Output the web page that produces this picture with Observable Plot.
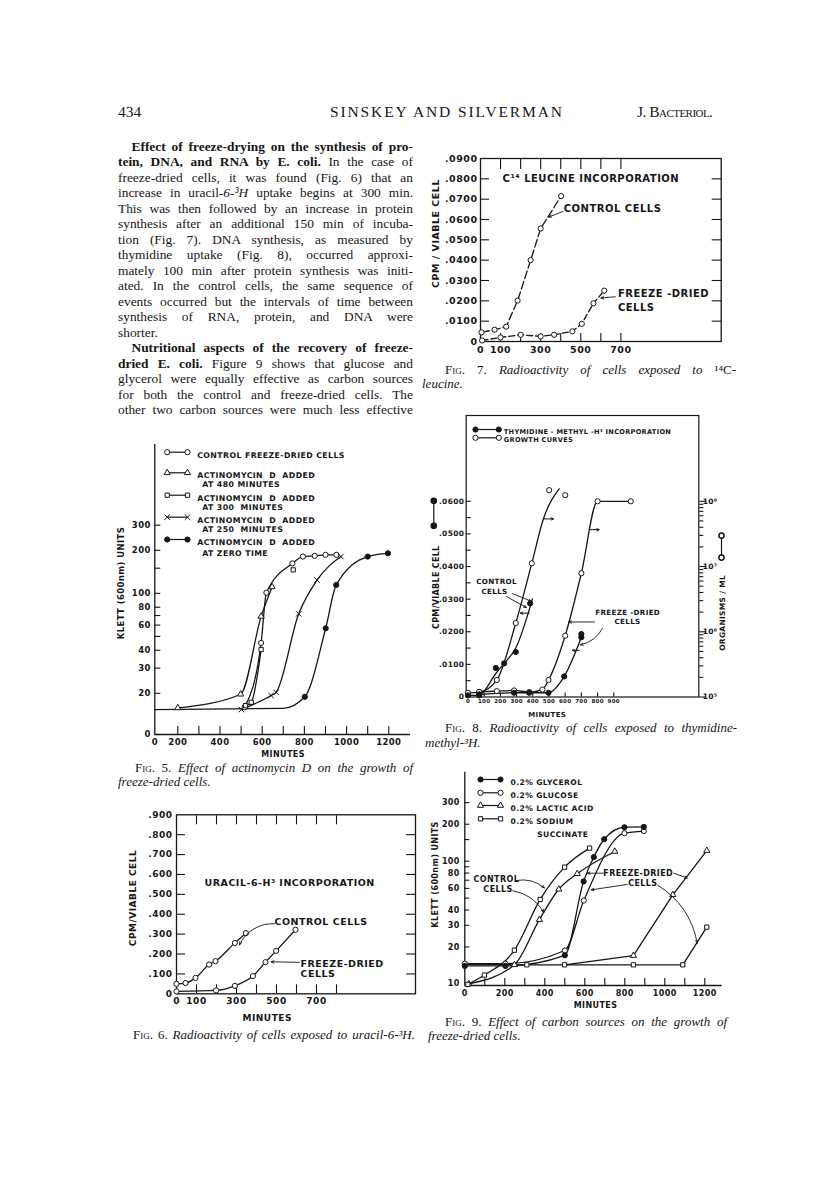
<!DOCTYPE html>
<html><head><meta charset="utf-8">
<script src="https://cdn.jsdelivr.net/npm/d3@7"></script>
<script src="https://cdn.jsdelivr.net/npm/@observablehq/plot@0.6"></script>
<style>
html,body{margin:0;padding:0;background:#fff;}
#page{position:relative;width:816px;height:1188px;overflow:hidden;background:#fff;color:#161616;}
.ln{position:absolute;white-space:pre;font-family:'Liberation Serif','Times New Roman',serif;font-size:13.4px;line-height:13.4px;color:#161616;}
.cap{font-size:13px;line-height:13px;}
.hd{font-size:15.5px;line-height:15.5px;}
.sc{font-variant:small-caps;}
</style></head><body><div id="page"></div>
<script>
// ================= DATA =================
// Page text
const headerLeft = "434";
const headerCenter = "SINSKEY AND SILVERMAN";
const headerRight = 'J. <span class="sc">Bacteriol.</span>';
const bodyLines = [
  "<b>Effect of freeze-drying on the synthesis of pro-</b>",
  "<b>tein, DNA, and RNA by E. coli.</b> In the case of",
  "freeze-dried cells, it was found (Fig. 6) that an",
  "increase in uracil-<i>6-³H</i> uptake begins at 300 min.",
  "This was then followed by an increase in protein",
  "synthesis after an additional 150 min of incuba-",
  "tion (Fig. 7). DNA synthesis, as measured by",
  "thymidine uptake (Fig. 8), occurred approxi-",
  "mately 100 min after protein synthesis was initi-",
  "ated. In the control cells, the same sequence of",
  "events occurred but the intervals of time between",
  "synthesis of RNA, protein, and DNA were",
  "shorter.",
  "<b>Nutritional aspects of the recovery of freeze-</b>",
  "<b>dried E. coli.</b> Figure 9 shows that glucose and",
  "glycerol were equally effective as carbon sources",
  "for both the control and freeze-dried cells. The",
  "other two carbon sources were much less effective"
];
const cap7 = ['<span class="sc">Fig.</span> 7. <i>Radioactivity of cells exposed to</i> ¹⁴C-', '<i>leucine.</i>'];
const cap5 = ['<span class="sc">Fig.</span> 5. <i>Effect of actinomycin D on the growth of</i>', '<i>freeze-dried cells.</i>'];
const cap8 = ['<span class="sc">Fig.</span> 8. <i>Radioactivity of cells exposed to thymidine-</i>', '<i>methyl-³H.</i>'];
const cap6 = ['<span class="sc">Fig.</span> 6. <i>Radioactivity of cells exposed to uracil-6-³H.</i>'];
const cap9 = ['<span class="sc">Fig.</span> 9. <i>Effect of carbon sources on the growth of</i>', '<i>freeze-dried cells.</i>'];

// Fig 7: [minutes, cpm per viable cell]
const fig7Control = [[5,.0045],[70,.0058],[128,.0073],[185,.0201],[250,.0400],[300,.0556],[402,.0715]];
const fig7Freeze = [[8,.0005],[100,.0020],[200,.0033],[300,.0025],[367,.0033],[458,.0050],[505,.0087],[563,.0188],[617,.0250]];
const fig7YTicks = [0,.01,.02,.03,.04,.05,.06,.07,.08,.09];
const fig7XLabels = [0,100,300,500,700];
const fig7XTicks = [100,200,300,400,500,600,700];
const fig7Notes = [
  {x:110, y:.0802, text:"C¹⁴ LEUCINE INCORPORATION"},
  {x:415, y:.0653, text:"CONTROL CELLS"},
  {x:685, y:.0233, text:"FREEZE -DRIED"},
  {x:685, y:.0168, text:"CELLS"}
];
const fig7Arrows = [
  {x1:412, y1:.0640, x2:340, y2:.0612},
  {x1:672, y1:.0220, x2:600, y2:.0214}
];

// Fig 5: [minutes, Klett units]
const fig5XZero = 91, fig5YZero = 10.3;
const fig5Control = [[517,16],[595,45],[620,101],[743,162],[793,181],[849,183],[900,186],[952,186]];
const fig5At480 = [[200,15.8],[498,19.7],[595,69],[647,111]];
const fig5At300 = [[521,16.4],[548,17.3],[595,40.5]];
const fig5At300Extra = [[747,146]];
const fig5At250 = [[502,15.4],[642,19.3],[666,20.3],[773,71.9],[860,124],[973,181]];
const fig5Zero = [[802,18.9],[901,57],[951,114.6],[1100,181],[1196,190.7]];
const fig5ZeroBaseline = [[91,15.4],[700,15.7]];
const fig5YLabels = [20,30,40,60,80,100,200,300];
const fig5YTicks = [20,30,40,50,60,70,80,100,150,200,300];
const fig5XLabels = [200,400,600,800,1000,1200];
const fig5XTicks = [200,300,400,500,600,700,800,900,1000,1100,1200];
const fig5Legend = [
  {k:"open", label:"CONTROL FREEZE-DRIED CELLS", sub:null},
  {k:"tri", label:"ACTINOMYCIN  D  ADDED", sub:"AT 480 MINUTES"},
  {k:"sq", label:"ACTINOMYCIN  D  ADDED", sub:"AT 300  MINUTES"},
  {k:"x", label:"ACTINOMYCIN  D  ADDED", sub:"AT 250  MINUTES"},
  {k:"filled", label:"ACTINOMYCIN  D  ADDED", sub:"AT ZERO TIME"}
];

// Fig 8: growth [minutes, organisms/ml], thymidine [minutes, cpm per viable cell]
const fig8ControlGrowth = [[0,1.16e5],[69,1.19e5],[178,1.82e5],[295,1.36e6],[394,1.12e7],[501,1.48e8],[600,1.24e8]];
const fig8ControlGrowthCurve = [[0,1.16e5],[69,1.19e5],[178,1.82e5],[295,1.36e6],[394,1.12e7],[466,5.4e7],[563,1.55e8]];
const fig8FreezeGrowth = [[69,1.2e5],[178,1.23e5],[285,1.26e5],[378,1.19e5],[460,1.3e5],[497,1.82e5],[600,8.7e5],[700,7.9e6],[800,1.0e8],[1005,1.0e8]];
const fig8ControlThym = [[0,.0005],[69,.0005],[172,.0089],[223,.0103],[295,.0138],[384,.0287]];
const fig8ControlThymCurve = [[0,.0005],[69,.0006],[172,.0072],[223,.0103],[295,.0150],[398,.0301]];
const fig8FreezeThym = [[69,.0008],[285,.0013],[378,.0013],[497,.0013],[594,.0063],[700,.0183],[700,.0193]];
const fig8YLabels = [0,.01,.02,.03,.04,.05,.06];
const fig8YTicks = d3.range(1,13).map(i => i*.005);
const fig8OrgMajor = [1e5,1e6,1e7,1e8];
const fig8XLabels = [0,100,200,300,400,500,600,700,800,900];
const fig8Notes = [
  {x:176, y:.0355, text:"CONTROL"}, {x:164, y:.0324, text:"CELLS"},
  {x:986, y:.0258, text:"FREEZE -DRIED"}, {x:985, y:.0232, text:"CELLS"}
];
const fig8Arrows = [
  {x1:238, y1:.0308, x2:361, y2:.0274},
  {x1:275, y1:.0317, x2:392, y2:.0293},
  {x1:781, y1:.0230, x2:622, y2:.0230}
];
const fig8CurvedArrows = [{x1:830, y1:.0210, x2:694, y2:.0160}];
const fig8Pointers = [
  {x1:466, y1:.0546, x2:528, y2:.0546},
  {x1:748, y1:.0513, x2:810, y2:.0513},
  {x1:378, y1:.0257, x2:324, y2:.0257},
  {x1:686, y1:.0143, x2:645, y2:.0143}
];

// Fig 6: [minutes, cpm per viable cell]
const fig6Control = [[0,.050],[45,.054],[95,.080],[163,.147],[195,.164],[292,.256],[347,.305]];
const fig6Freeze = [[0,.012],[198,.017],[292,.040],[382,.089],[445,.159],[498,.216],[595,.322]];
const fig6YTicks = [0,.1,.2,.3,.4,.5,.6,.7,.8,.9];
const fig6XLabels = [0,100,300,500,700];
const fig6XTicks = [100,200,300,400,500,600,700,800];
const fig6Notes = [
  {x:140, y:.558, text:"URACIL-6-H³ INCORPORATION"},
  {x:490, y:.359, text:"CONTROL CELLS"},
  {x:620, y:.151, text:"FREEZE-DRIED"},
  {x:620, y:.098, text:"CELLS"}
];
const fig6CurvedArrows = [{x1:492, y1:.352, x2:315, y2:.246}];
const fig6Arrows = [{x1:615, y1:.158, x2:473, y2:.161}];

// Fig 9: [minutes, Klett units]
const fig9YZero = 9.7;
const fig9GlycerolFD = [[0,14.0],[203,14.0],[500,17.1],[594,68.4],[645,108],[697,151],[798,189],[895,190]];
const fig9GlucoseFD = [[0,14.6],[203,14.6],[500,18.7],[595,47.8],[798,169],[895,176]];
const fig9LacticControl = [[20,10],[248,14.3],[373,33.4],[470,59],[562,79],[750,120]];
const fig9LacticFD = [[843,17.0],[1040,53.2],[1210,122]];
const fig9LacticFDStart = [[499,14.3]];
const fig9SuccControl = [[15,9.9],[98,11.8],[248,18.8],[377,48.8],[499,89.4],[624,127.7]];
const fig9SuccFD = [[0,14.4],[310,14.3],[499,14.3],[843,14.3],[1090,14.3],[1210,29]];
const fig9YLabels = [10,20,30,40,60,80,100,200,300];
const fig9YTicks = [20,30,40,50,60,70,80,90,100,150,200,300];
const fig9XLabels = [0,200,400,600,800,1000,1200];
const fig9XTicks = [100,200,300,400,500,600,700,800,900,1000,1100,1200];
const fig9Legend = [
  {k:"filled", label:"0.2% GLYCEROL"},
  {k:"open", label:"0.2% GLUCOSE"},
  {k:"tri", label:"0.2% LACTIC ACID"},
  {k:"sq", label:"0.2% SODIUM"}
];
const fig9Notes = [
  {x:158, y:70.5, text:"CONTROL"}, {x:166, y:58.4, text:"CELLS"},
  {x:867, y:79.8, text:"FREEZE-DRIED"}, {x:890, y:65.4, text:"CELLS"}
];
const fig9CurvedArrows = [
  {x1:257, y1:69.6, x2:398, y2:60.6},
  {x1:240, y1:57.4, x2:395, y2:38.4},
  {x1:965, y1:63.6, x2:1162, y2:21.4}
];
const fig9Arrows = [
  {x1:693, y1:79.8, x2:612, y2:79.8},
  {x1:812, y1:64.6, x2:632, y2:58.4},
  {x1:1045, y1:79.8, x2:1112, y2:72.9}
];

// ================= PAGE TEXT =================
const page = document.getElementById("page");
function textLine(html, x, baseline, width, cls, fit) {
  const el = document.createElement("div");
  el.className = "ln" + (cls ? " " + cls : "");
  el.innerHTML = html;
  page.appendChild(el);
  const fs = parseFloat(getComputedStyle(el).fontSize);
  el.style.left = x + "px";
  el.style.top = (baseline - 0.8375 * fs) + "px";
  if (width) {
    const w = el.getBoundingClientRect().width;
    if (fit === "letter") {
      const n = el.textContent.length - 1;
      el.style.letterSpacing = ((width - w) / n) + "px";
    } else {
      const n = (el.textContent.match(/ /g) || []).length;
      if (n) el.style.wordSpacing = ((width - w) / n) + "px";
    }
  }
  return el;
}
textLine(headerLeft, 118, 117, null, "hd");
textLine(headerCenter, 330, 117, 232, "hd", "letter");
textLine(headerRight, 637, 117, 76, "hd", "letter");
bodyLines.forEach((l, i) => {
  const indent = (i === 0 || i === 13) ? 13.5 : 0;
  textLine(l, 118 + indent, 151 + 15.5 * i, i === 12 ? null : 295 - indent);
});
textLine(cap7[0], 445, 374, 291, "cap"); textLine(cap7[1], 422, 388, null, "cap");
textLine(cap5[0], 135, 772, 278, "cap"); textLine(cap5[1], 118, 786, null, "cap");
textLine(cap8[0], 445, 732, 292, "cap"); textLine(cap8[1], 425, 746.5, null, "cap");
textLine(cap6[0], 133, 1039, 282, "cap");
textLine(cap9[0], 445, 1026, 282, "cap"); textLine(cap9[1], 428, 1040, null, "cap");

// ================= PLOT HELPERS =================
const SANS = "'DejaVu Sans','Liberation Sans',sans-serif";
const INK = "#161616";
const blank = () => "";
const num = d => String(d);
const fmt4 = d => d === 0 ? "0" : d3.format(".4f")(d).slice(1);
const fmt3 = d => d === 0 ? "0" : d3.format(".3f")(d).slice(1);
const MK = {
  open: {symbol: "circle", r: 2.6, fill: "white"},
  filled: {symbol: "circle", r: 2.6, fill: INK},
  tri: {symbol: "triangle", r: 2.3, fill: "white"},
  sq: {symbol: "square", r: 2.4, fill: "white"},
  x: {symbol: "times", r: 2.6, fill: "none"}
};
const dots = (data, k, o = {}) => Plot.dot(data, {x: d => d[0], y: d => d[1], ...MK[k], stroke: INK, strokeWidth: 1, ...o});
const curve = (data, o = {}) => Plot.line(data, {x: d => d[0], y: d => d[1], curve: "monotone-x", stroke: INK, strokeWidth: 1.3, ...o});
const yLabels = (t, fmt, fs, pad = 3, anchor = "left") => Plot.axisY(t, {anchor, tickSize: 0, tickPadding: pad, tickFormat: fmt, label: null, fontSize: fs, fontWeight: "bold", fill: INK});
// log scales: Plot thins log tick labels, so draw them as frame-anchored text
const logYLabels = (t, fmt, fs, pad) => Plot.text(t, {y: d => d, frameAnchor: "left", dx: -pad, textAnchor: "end", text: fmt, fontSize: fs, fontWeight: "bold", fill: INK});
const yTicks = (t, size, anchor = "left") => Plot.axisY(t, {anchor, tickSize: size, tickFormat: blank, label: null, strokeWidth: 1.1, stroke: INK});
const xLabels = (t, fmt, fs, pad = 4, anchor = "bottom") => Plot.axisX(t, {anchor, tickSize: 0, tickPadding: pad, tickFormat: fmt, label: null, fontSize: fs, fontWeight: "bold", fill: INK});
const xTicks = (t, size, anchor = "bottom") => Plot.axisX(t, {anchor, tickSize: size, tickFormat: blank, label: null, strokeWidth: 1.1, stroke: INK});
const notes = (data, fs, anchor = "start") => Plot.text(data, {x: "x", y: "y", text: "text", textAnchor: anchor, fontSize: fs, fontWeight: "bold", fill: INK});
const arrows = (data, bend = 0) => Plot.arrow(data, {x1: "x1", y1: "y1", x2: "x2", y2: "y2", bend, headLength: 5, headAngle: 45, strokeWidth: 0.9, stroke: INK});
const hSeg = len => ({draw(ctx) { ctx.moveTo(-len / 2, 0); ctx.lineTo(len / 2, 0); }});
const vSeg = len => ({draw(ctx) { ctx.moveTo(0, -len / 2); ctx.lineTo(0, len / 2); }});
const atFrame = (anchor, dx, dy, o) => ({frameAnchor: anchor, dx, dy, ...o});
const label = (txt, anchor, dx, dy, fs, o = {}) => Plot.text([txt], atFrame(anchor, dx, dy, {textAnchor: "middle", lineAnchor: "middle", fontSize: fs, fontWeight: "bold", fill: INK, ...o}));
function legendRow(anchor, x1, x2, y, k, text, tx, fs) {
  return [
    Plot.dot([0], atFrame(anchor, (x1 + x2) / 2, y, {symbol: hSeg(x2 - x1), stroke: INK, strokeWidth: 1.2, fill: "none"})),
    Plot.dot([0], atFrame(anchor, x1, y, {...MK[k], stroke: INK, strokeWidth: 1})),
    Plot.dot([0], atFrame(anchor, x2, y, {...MK[k], stroke: INK, strokeWidth: 1})),
    Plot.text([text], atFrame(anchor, tx, y, {textAnchor: "start", fontSize: fs, fontWeight: "bold", fill: INK}))
  ];
}
function figure(L, T, W, H, f, scales, ls, marks) {
  const svg = Plot.plot({
    width: W, height: H,
    marginLeft: f.l - L, marginRight: L + W - f.r, marginTop: f.t - T, marginBottom: T + H - f.b,
    ...scales,
    style: {fontFamily: SANS, fontWeight: "bold", fontSize: "9px", color: INK, background: "transparent", overflow: "visible", letterSpacing: ls + "px"},
    marks
  });
  svg.style.position = "absolute"; svg.style.left = L + "px"; svg.style.top = T + "px";
  svg.style.maxWidth = "none"; svg.style.background = "transparent"; svg.style.overflow = "visible";
  page.appendChild(svg);
}

// ================= FIG 7 =================
figure(420, 140, 310, 230, {l: 480, r: 720.7, t: 158, b: 341},
  {x: {domain: [0, 1200], axis: null}, y: {domain: [0, .09], axis: null}}, 0.5, [
  Plot.frame({stroke: INK, strokeWidth: 1.3}),
  yLabels(fig7YTicks, fmt4, 9.5, 3),
  yTicks(fig7YTicks.slice(1, -1), -9),
  yTicks(fig7YTicks.slice(1, -1), -10, "right"),
  xTicks(fig7XTicks, -10, "top"),
  xTicks(fig7XTicks, -8),
  xLabels(fig7XLabels, num, 9.5, 5),
  label("CPM / VIABLE CELL", "left", -45, -16.5, 9.5, {rotate: -90, style: "letter-spacing:1.8px"}),
  curve(fig7Control, {curve: "linear", strokeDasharray: "8,3"}),
  curve(fig7Freeze, {curve: "linear", strokeDasharray: "6,3"}),
  dots(fig7Control, "open"), dots(fig7Freeze, "open"),
  notes(fig7Notes, 10),
  arrows(fig7Arrows)
]);

// ================= FIG 5 =================
figure(100, 430, 320, 340, {l: 154.3, r: 410, t: 444, b: 734},
  {x: {domain: [fig5XZero, 1303], axis: null}, y: {type: "log", domain: [fig5YZero, 1100], axis: null}}, 0.4, [
  Plot.ruleX([fig5XZero], {stroke: INK, strokeWidth: 1.3}),
  Plot.ruleY([fig5YZero], {stroke: INK, strokeWidth: 1.3}),
  logYLabels([fig5YZero, ...fig5YLabels], d => d === fig5YZero ? "0" : String(d), 8.5, 4),
  yTicks([fig5YZero, ...fig5YTicks], -6),
  xLabels([fig5XZero, ...fig5XLabels], d => d === fig5XZero ? "0" : String(d), 8.5, 4),
  xTicks(fig5XTicks, -8),
  label("MINUTES", "bottom-left", 128.2, 20, 8),
  label("KLETT (600nm) UNITS", "left", -33.6, -6.5, 8.5, {rotate: -90}),
  ...fig5Legend.flatMap((r, i) => {
    const dy = [7.7, 28.3, 50.7, 72.7, 95][i];
    const m = legendRow("top-left", 12.4, 32.7, dy, r.k, r.label, 42.4, 7.8);
    if (r.sub) m.push(Plot.text([r.sub], atFrame("top-left", 47.4, dy + (i === 4 ? 11 : 9), {textAnchor: "start", fontSize: 7.8, fontWeight: "bold", fill: INK})));
    return m;
  }),
  curve(fig5ZeroBaseline.concat(fig5Zero)),
  curve(fig5At480), curve(fig5Control), curve(fig5At300), curve(fig5At250),
  dots(fig5At480, "tri"), dots(fig5Control, "open"), dots(fig5At300, "sq"), dots(fig5At300Extra, "sq"),
  dots(fig5At250, "x"), dots(fig5Zero, "filled")
]);

// ================= FIG 8 =================
const orgToCpm = o => (Math.log10(o) - 5) * 0.02;
const sup = {5: "⁵", 6: "⁶", 7: "⁷", 8: "⁸"};
const fig8OrgMinor = d3.range(5, 8).flatMap(e => d3.range(2, 10).map(k => k * 10 ** e));
const asCpm = arr => arr.map(([m, o]) => [m, orgToCpm(o)]);
const uniqX = arr => arr.filter((d, i, a) => i === 0 || d[0] !== a[i - 1][0]);
figure(420, 400, 320, 330, {l: 465.7, r: 698.3, t: 415, b: 696.5},
  {x: {domain: [-11, 1425], axis: null}, y: {domain: [0, .0863], axis: null}}, 0.3, [
  Plot.frame({stroke: INK, strokeWidth: 1.2}),
  yLabels(fig8YLabels, fmt4, 7.5, 2),
  yTicks(fig8YTicks, -5),
  yTicks(fig8OrgMajor.map(orgToCpm), 6, "right"),
  yTicks(fig8OrgMinor.map(orgToCpm), 4, "right"),
  yLabels(fig8OrgMajor.map(orgToCpm), d => "10" + sup[Math.round(5 + d / 0.02)], 7.5, 4, "right"),
  xLabels(fig8XLabels, num, 5.5, 2),
  xTicks(fig8XLabels.slice(1), -4),
  label("MINUTES", "bottom-left", 81, 17.5, 7),
  label("CPM/VIABLE CELL", "left", -29.7, 31, 8, {rotate: -90, style: "letter-spacing:2.3px"}),
  Plot.dot([0], atFrame("left", -32.4, -43, {symbol: vSeg(25), stroke: INK, strokeWidth: 1.2, fill: "none"})),
  Plot.dot([0], atFrame("left", -32.4, -55.5, {...MK.filled, stroke: INK})),
  Plot.dot([0], atFrame("left", -32.4, -30.5, {...MK.filled, stroke: INK})),
  label("ORGANISMS / ML", "right", 23.4, 56.7, 7.5, {rotate: -90, style: "letter-spacing:1.5px"}),
  Plot.dot([0], atFrame("right", 22.7, -9.7, {symbol: vSeg(22), stroke: INK, strokeWidth: 1.2, fill: "none"})),
  Plot.dot([0], atFrame("right", 22.7, -20.7, {...MK.open, stroke: INK})),
  Plot.dot([0], atFrame("right", 22.7, 1.3, {...MK.open, stroke: INK})),
  ...legendRow("top-left", 9.3, 32.6, 14, "filled", "THYMIDINE - METHYL -H³ INCORPORATION", 37.6, 6.6),
  ...legendRow("top-left", 9.3, 32.6, 22.3, "open", "GROWTH CURVES", 37.6, 6.6),
  curve(asCpm(fig8ControlGrowthCurve)), curve(asCpm(fig8FreezeGrowth)),
  curve(fig8ControlThymCurve), curve(uniqX(fig8FreezeThym)),
  dots(asCpm(fig8ControlGrowth), "open"), dots(asCpm(fig8FreezeGrowth), "open"),
  dots(fig8ControlThym, "filled"), dots(fig8FreezeThym, "filled"),
  notes(fig8Notes, 7.2, "middle"),
  arrows(fig8Arrows), arrows(fig8CurvedArrows, 25),
  Plot.arrow(fig8Pointers, {x1: "x1", y1: "y1", x2: "x2", y2: "y2", headLength: 4, headAngle: 50, strokeWidth: 1, stroke: INK})
]);

// ================= FIG 6 =================
figure(100, 800, 320, 225, {l: 176, r: 415, t: 814.3, b: 993.3},
  {x: {domain: [0, 1195], axis: null}, y: {domain: [0, .9], axis: null}}, 0.5, [
  Plot.frame({stroke: INK, strokeWidth: 1.3}),
  yLabels(fig6YTicks, fmt3, 9, 4),
  yTicks(fig6YTicks.slice(1, -1), -9),
  yTicks(fig6YTicks.slice(1, -1), -10, "right"),
  xTicks(fig6XTicks, -9, "top"),
  xTicks(fig6XTicks, -9),
  xLabels(fig6XLabels, num, 9, 4),
  label("MINUTES", "bottom-left", 90.7, 24, 9),
  label("CPM/VIABLE CELL", "left", -43.3, -6.3, 9, {rotate: -90}),
  curve(fig6Control), curve(fig6Freeze),
  dots(fig6Control, "open"), dots(fig6Freeze, "open"),
  notes(fig6Notes, 9.5),
  arrows(fig6CurvedArrows, -35), arrows(fig6Arrows)
]);

// ================= FIG 9 =================
figure(420, 760, 320, 260, {l: 464.3, r: 721.7, t: 771.7, b: 985},
  {x: {domain: [0, 1287], axis: null}, y: {type: "log", domain: [fig9YZero, 531], axis: null}}, 0.4, [
  Plot.ruleX([0], {stroke: INK, strokeWidth: 1.3}),
  Plot.ruleY([fig9YZero], {stroke: INK, strokeWidth: 1.3}),
  logYLabels(fig9YLabels, num, 8, 5),
  yTicks(fig9YTicks, -5),
  xLabels(fig9XLabels, num, 8, 5),
  xTicks(fig9XTicks, -7),
  label("MINUTES", "bottom-left", 130.7, 20, 8),
  label("KLETT (600nm) UNITS", "left", -29.3, -4.4, 8, {rotate: -90}),
  ...fig9Legend.flatMap((r, i) => legendRow("top-left", 15.7, 35.7, [7.3, 20.6, 33.3, 46.6][i], r.k, r.label, 45.7, 7.6)),
  Plot.text(["SUCCINATE"], atFrame("top-left", 72.4, 59, {textAnchor: "start", fontSize: 7.6, fontWeight: "bold", fill: INK})),
  curve(fig9SuccFD, {curve: "linear"}),
  curve(fig9LacticFDStart.concat(fig9LacticFD), {curve: "linear"}),
  curve(fig9GlycerolFD), curve(fig9GlucoseFD),
  curve(fig9LacticControl), curve(fig9SuccControl),
  dots(fig9SuccFD, "sq"), dots(fig9LacticFD, "tri"),
  dots(fig9GlucoseFD, "open"), dots(fig9GlycerolFD, "filled"),
  dots(fig9LacticControl, "tri"), dots(fig9SuccControl, "sq"),
  notes(fig9Notes, 8, "middle"),
  arrows(fig9CurvedArrows, 25), arrows(fig9Arrows)
]);
</script></body></html>
